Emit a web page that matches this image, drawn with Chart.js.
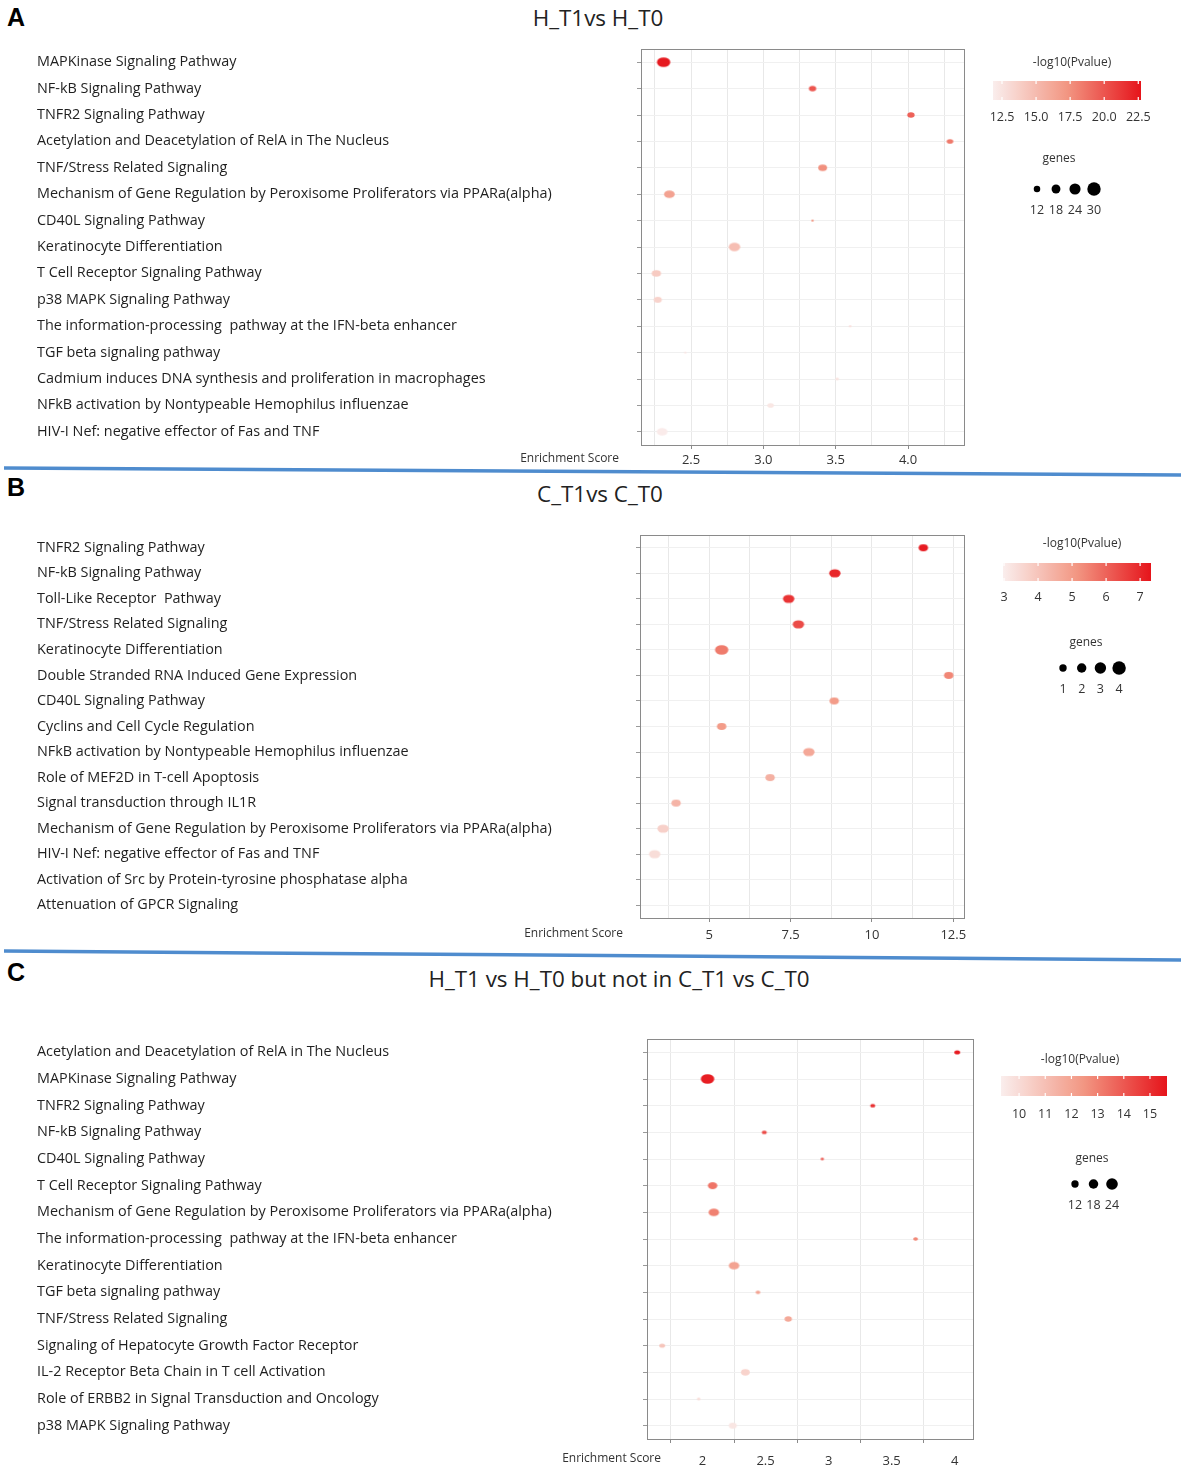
<!DOCTYPE html>
<html>
<head>
<meta charset="utf-8">
<script src="https://cdn.jsdelivr.net/npm/chart.js@4.4.0/dist/chart.umd.min.js"></script>
<style>
body { margin: 0; background: #fff; }
#page { position: relative; width: 1181px; height: 1468px; overflow: hidden; font-family: "Open Sans", sans-serif; }
.letter { position: absolute; left: 7px; font: bold 25px "Liberation Sans", Arial, sans-serif; color: #000; }
.title { position: absolute; font-size: 22.4px; color: #222; transform: translateX(-50%); white-space: nowrap; }
canvas { position: absolute; left: 0; }
svg { position: absolute; left: 0; top: 0; z-index: 2; }
</style>
</head>
<body>
<div id="page">
  <div class="letter" style="top:3px">A</div>
  <div class="letter" style="top:473px">B</div>
  <div class="letter" style="top:958px">C</div>
  <div class="title" style="left:598px;top:2px">H_T1vs H_T0</div>
  <div class="title" style="left:600px;top:478px">C_T1vs C_T0</div>
  <div class="title" style="left:619px;top:963px">H_T1 vs H_T0 but not in C_T1 vs C_T0</div>
  <canvas id="chartA" width="1181" height="436" style="top:36px"></canvas>
  <canvas id="chartB" width="1181" height="440" style="top:512px"></canvas>
  <canvas id="chartC" width="1181" height="468" style="top:1000px"></canvas>
  <svg width="1181" height="1468">
    <line x1="4" y1="468" x2="1181" y2="475" stroke="#4f8cce" stroke-width="3.5"/>
    <line x1="4" y1="951" x2="1181" y2="960" stroke="#4f8cce" stroke-width="3.5"/>
  </svg>
</div>
<script>
// ---- panel A: H_T1 vs H_T0
const pathwaysA = [
  "MAPKinase Signaling Pathway",
  "NF-kB Signaling Pathway",
  "TNFR2 Signaling Pathway",
  "Acetylation and Deacetylation of RelA in The Nucleus",
  "TNF/Stress Related Signaling",
  "Mechanism of Gene Regulation by Peroxisome Proliferators via PPARa(alpha)",
  "CD40L Signaling Pathway",
  "Keratinocyte Differentiation",
  "T Cell Receptor Signaling Pathway",
  "p38 MAPK Signaling Pathway",
  "The information-processing  pathway at the IFN-beta enhancer",
  "TGF beta signaling pathway",
  "Cadmium induces DNA synthesis and proliferation in macrophages",
  "NFkB activation by Nontypeable Hemophilus influenzae",
  "HIV-I Nef: negative effector of Fas and TNF"
];
const scoreA = [2.31, 3.34, 4.02, 4.29, 3.41, 2.35, 3.34, 2.80, 2.26, 2.27, 3.60, 2.46, 3.51, 3.05, 2.30];
const genesA = [30, 14, 14, 12, 18, 23, 2, 25, 19, 16, 2, 1, 4, 12, 23];
const logpA = [22.5, 20.0, 19.5, 18.5, 17.5, 16.5, 17.0, 14.8, 14.0, 13.5, 12.8, 12.5, 12.6, 12.3, 12.0];
const colorTicksA = [12.5, 15.0, 17.5, 20.0, 22.5];
const geneTicksA = [12, 18, 24, 30];

// ---- panel B: C_T1 vs C_T0
const pathwaysB = [
  "TNFR2 Signaling Pathway",
  "NF-kB Signaling Pathway",
  "Toll-Like Receptor  Pathway",
  "TNF/Stress Related Signaling",
  "Keratinocyte Differentiation",
  "Double Stranded RNA Induced Gene Expression",
  "CD40L Signaling Pathway",
  "Cyclins and Cell Cycle Regulation",
  "NFkB activation by Nontypeable Hemophilus influenzae",
  "Role of MEF2D in T-cell Apoptosis",
  "Signal transduction through IL1R",
  "Mechanism of Gene Regulation by Peroxisome Proliferators via PPARa(alpha)",
  "HIV-I Nef: negative effector of Fas and TNF",
  "Activation of Src by Protein-tyrosine phosphatase alpha",
  "Attenuation of GPCR Signaling"
];
const scoreB = [11.58, 8.86, 7.44, 7.74, 5.38, 12.36, 8.84, 5.38, 8.06, 6.87, 3.98, 3.58, 3.32, null, null];
const genesB = [2, 3, 3, 3, 4, 2, 2, 2, 3, 2, 2, 3, 3, null, null];
const logpB = [7.2, 7.0, 6.8, 6.4, 5.6, 5.4, 5.0, 5.0, 4.7, 4.5, 4.4, 3.7, 3.4, null, null];
const colorTicksB = [3, 4, 5, 6, 7];
const geneTicksB = [1, 2, 3, 4];

// ---- panel C: H_T1 vs H_T0 but not in C_T1 vs C_T0
const pathwaysC = [
  "Acetylation and Deacetylation of RelA in The Nucleus",
  "MAPKinase Signaling Pathway",
  "TNFR2 Signaling Pathway",
  "NF-kB Signaling Pathway",
  "CD40L Signaling Pathway",
  "T Cell Receptor Signaling Pathway",
  "Mechanism of Gene Regulation by Peroxisome Proliferators via PPARa(alpha)",
  "The information-processing  pathway at the IFN-beta enhancer",
  "Keratinocyte Differentiation",
  "TGF beta signaling pathway",
  "TNF/Stress Related Signaling",
  "Signaling of Hepatocyte Growth Factor Receptor",
  "IL-2 Receptor Beta Chain in T cell Activation",
  "Role of ERBB2 in Signal Transduction and Oncology",
  "p38 MAPK Signaling Pathway"
];
const scoreC = [4.02, 2.04, 3.35, 2.49, 2.95, 2.08, 2.09, 3.69, 2.25, 2.44, 2.68, 1.68, 2.34, 1.97, 2.24];
const genesC = [8, 29, 6, 6, 1, 18, 21, 5, 21, 5, 12, 8, 16, 1, 14];
const logpC = [15.5, 15.4, 15.0, 14.3, 14.0, 13.3, 13.0, 12.8, 12.0, 12.0, 11.8, 10.8, 10.3, 10.0, 9.6];
const colorTicksC = [10, 11, 12, 13, 14, 15];
const geneTicksC = [12, 18, 24];

const redStops = [[0, [250, 238, 237]], [0.5, [242, 150, 130]], [1, [230, 20, 27]]];

function redAt(t) {
  t = Math.max(0, Math.min(1, t));
  for (let i = 1; i < redStops.length; i++) {
    if (t <= redStops[i][0]) {
      const a = redStops[i - 1], b = redStops[i];
      const f = (t - a[0]) / (b[0] - a[0]);
      const c = a[1].map((v, k) => Math.round(v + (b[1][k] - v) * f));
      return 'rgb(' + c.join(',') + ')';
    }
  }
  return 'rgb(' + redStops[redStops.length - 1][1].join(',') + ')';
}

// the dots in the figure are slightly squashed ellipses
const squash = 0.72;
const imgCache = {};
function ellipseImg(color, r) {
  const key = color + '|' + r.toFixed(2);
  if (imgCache[key]) return imgCache[key];
  const c = document.createElement('canvas');
  c.width = Math.ceil(2 * r) + 2;
  c.height = Math.ceil(2 * r * squash) + 2;
  const g = c.getContext('2d');
  g.fillStyle = color;
  g.beginPath();
  g.ellipse(c.width / 2, c.height / 2, r, r * squash, 0, 0, Math.PI * 2);
  g.fill();
  imgCache[key] = c;
  return c;
}

function isMult(v, m) {
  return Math.abs(v / m - Math.round(v / m)) < 1e-6;
}

const panels = [
  {
    id: 'chartA', top: 36, height: 436, plot: { l: 641, r: 964, t: 49, b: 445 },
    labels: pathwaysA, score: scoreA, genes: genesA, logp: logpA,
    xMin: 2.154, xMax: 4.387, step: 0.25, labelEvery: 0.5, gridOnLabels: true, fmt: v => v.toFixed(1),
    tickPad: 3, axisTitleRight: 619, axisTitleY: 459,
    cmin: 11.84, cmax: 22.7, colorTicks: colorTicksA, cfmt: v => v.toFixed(1),
    geneTicks: geneTicksA, rBase: 1, rStep: 0.19,
    lg: { titleX: 1072, titleY: 63, barL: 993, barR: 1141, barT: 81, barB: 100, tickY: 117,
          genesX: 1059, genesY: 159, dotX: 1037, dotDx: 19, dotY: 189, dotLabelY: 210 }
  },
  {
    id: 'chartB', top: 512, height: 440, plot: { l: 640, r: 964, t: 535, b: 918 },
    labels: pathwaysB, score: scoreB, genes: genesB, logp: logpB,
    xMin: 2.87, xMax: 12.83, step: 1.25, labelEvery: 2.5, gridOnLabels: true, fmt: v => String(+v.toFixed(2)),
    tickPad: 5, axisTitleRight: 623, axisTitleY: 934,
    cmin: 2.97, cmax: 7.32, colorTicks: colorTicksB, cfmt: v => String(v),
    geneTicks: geneTicksB, rBase: 2.7, rStep: 1.0,
    lg: { titleX: 1082, titleY: 544, barL: 1003, barR: 1151, barT: 563, barB: 581, tickY: 597,
          genesX: 1086, genesY: 643, dotX: 1063, dotDx: 18.7, dotY: 668, dotLabelY: 689 }
  },
  {
    id: 'chartC', top: 1000, height: 468, plot: { l: 647, r: 973, t: 1039, b: 1439 },
    labels: pathwaysC, score: scoreC, genes: genesC, logp: logpC,
    xMin: 1.56, xMax: 4.145, step: 0.25, labelEvery: 0.5, gridOnLabels: false, fmt: v => String(+v.toFixed(2)),
    tickPad: 10, axisTitleRight: 661, axisTitleY: 1459,
    cmin: 9.31, cmax: 15.65, colorTicks: colorTicksC, cfmt: v => String(v),
    geneTicks: geneTicksC, rBase: 1.5, rStep: 0.18,
    lg: { titleX: 1080, titleY: 1060, barL: 1001, barR: 1167, barT: 1076, barB: 1096, tickY: 1114,
          genesX: 1092, genesY: 1159, dotX: 1075, dotDx: 18.5, dotY: 1184, dotLabelY: 1205 }
  }
];

Chart.defaults.font.family = '"Open Sans", sans-serif';

// plot frame, axis title and the two keys, drawn per panel
function makeFrame(p) {
  return {
    id: 'frame' + p.id,
    afterDraw(chart) {
      const ctx = chart.ctx;
      const a = chart.chartArea;
      const off = p.top;
      ctx.save();
      ctx.strokeStyle = '#8a8a8a';
      ctx.lineWidth = 1;
      ctx.strokeRect(Math.round(a.left) + 0.5, Math.round(a.top) + 0.5, Math.round(a.right - a.left), Math.round(a.bottom - a.top));

      ctx.fillStyle = '#333';
      ctx.font = '12px "Open Sans", sans-serif';
      ctx.textAlign = 'right';
      ctx.textBaseline = 'middle';
      ctx.fillText('Enrichment Score', p.axisTitleRight, p.axisTitleY - off);

      const lg = p.lg;
      ctx.textAlign = 'center';
      ctx.fillText('-log10(Pvalue)', lg.titleX, lg.titleY - off);
      const span = p.cmax - p.cmin;
      const grad = ctx.createLinearGradient(lg.barL, 0, lg.barR, 0);
      for (let i = 0; i <= 20; i++) grad.addColorStop(i / 20, redAt(i / 20));
      ctx.fillStyle = grad;
      ctx.fillRect(lg.barL, lg.barT - off, lg.barR - lg.barL, lg.barB - lg.barT);
      ctx.strokeStyle = '#fff';
      ctx.lineWidth = 1.2;
      ctx.font = '12.5px "Open Sans", sans-serif';
      ctx.fillStyle = '#333';
      p.colorTicks.forEach(v => {
        const x = lg.barL + (v - p.cmin) / span * (lg.barR - lg.barL);
        ctx.beginPath();
        ctx.moveTo(x, lg.barT - off); ctx.lineTo(x, lg.barT - off + 3);
        ctx.moveTo(x, lg.barB - off - 3); ctx.lineTo(x, lg.barB - off);
        ctx.stroke();
        ctx.fillText(p.cfmt(v), x, lg.tickY - off);
      });

      ctx.font = '12px "Open Sans", sans-serif';
      ctx.fillText('genes', lg.genesX, lg.genesY - off);
      ctx.font = '12.5px "Open Sans", sans-serif';
      p.geneTicks.forEach((g, i) => {
        const x = lg.dotX + i * lg.dotDx;
        const r = p.rBase + p.rStep * g;
        ctx.fillStyle = '#000';
        ctx.beginPath();
        ctx.arc(x, lg.dotY - off, r, 0, Math.PI * 2);
        ctx.fill();
        ctx.fillStyle = '#333';
        ctx.fillText(String(g), x, lg.dotLabelY - off);
      });
      ctx.restore();
    }
  };
}

panels.forEach(p => {
  const pts = [];
  const cols = [];
  p.labels.forEach((lab, i) => {
    if (p.score[i] === null) return;
    pts.push({ x: p.score[i], y: lab, r: p.rBase + p.rStep * p.genes[i] });
    cols.push(redAt((p.logp[i] - p.cmin) / (p.cmax - p.cmin)));
  });
  const xHeight = (p.top + p.height) - p.plot.b;

  new Chart(document.getElementById(p.id), {
    type: 'bubble',
    data: {
      datasets: [{
        data: pts,
        backgroundColor: cols,
        borderWidth: 0,
        pointStyle: ctx => ellipseImg(cols[ctx.dataIndex], pts[ctx.dataIndex].r),
        clip: false
      }]
    },
    options: {
      responsive: false,
      devicePixelRatio: 1,
      animation: false,
      events: [],
      layout: { padding: { left: 37, top: p.plot.t - p.top, right: 1181 - p.plot.r, bottom: 0 } },
      plugins: {
        legend: { display: false },
        tooltip: { enabled: false }
      },
      scales: {
        x: {
          type: 'linear',
          min: p.xMin,
          max: p.xMax,
          afterFit: s => { s.height = xHeight; },
          border: { display: false },
          grid: {
            color: c => {
              const v = c.tick ? c.tick.value : NaN;
              const lab = isMult(v, p.labelEvery);
              return (p.gridOnLabels || !lab) ? '#e8e8e8' : 'rgba(0,0,0,0)';
            },
            tickColor: c => {
              const v = c.tick ? c.tick.value : NaN;
              const lab = isMult(v, p.labelEvery);
              return (p.gridOnLabels ? lab : !lab) ? '#8a8a8a' : 'rgba(0,0,0,0)';
            },
            tickLength: 4
          },
          ticks: {
            stepSize: p.step,
            includeBounds: false,
            autoSkip: false,
            maxRotation: 0,
            padding: p.tickPad,
            color: '#333',
            font: { size: 13 },
            callback: v => isMult(v, p.labelEvery) ? p.fmt(v) : ''
          }
        },
        y: {
          type: 'category',
          labels: p.labels,
          offset: true,
          afterFit: s => { s.width = p.plot.l - 37; },
          border: { display: false },
          grid: { offset: false, color: '#f0f0f0', tickColor: '#9a9a9a', tickLength: 4 },
          ticks: {
            crossAlign: 'far',
            autoSkip: false,
            padding: 0,
            color: '#1f1f1f',
            font: { size: 14.4 }
          }
        }
      }
    },
    plugins: [makeFrame(p)]
  });
});
</script>
</body>
</html>
